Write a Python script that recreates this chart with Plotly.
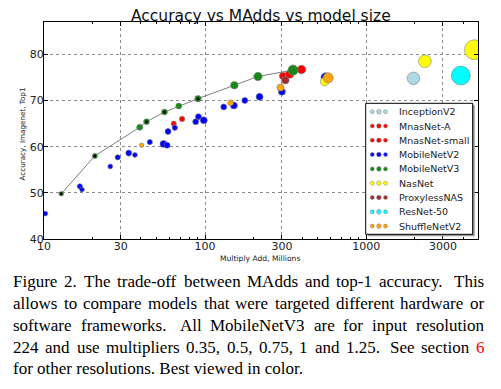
import math
import plotly.graph_objects as go

# ---------------- data ----------------
families = ["InceptionV2", "MnasNet-A", "MnasNet-small", "MobileNetV2", "MobileNetV3",
            "NasNet", "ProxylessNAS", "ResNet-50", "ShuffleNetV2"]

inception_madds = [1968]
inception_acc = [74.8]
inception_params = [11.2]

mnasa_madds = [305, 335, 397]
mnasa_acc = [75.3, 75.7, 76.7]
mnasa_params = [3.9, 4.6, 5.2]

mnass_madds = [63.9, 72.0]
mnass_acc = [65.0, 66.0]
mnass_params = [1.9, 2.1]

mnv2_madds = [10.2, 16.7, 17.2, 25.8, 28.7, 33.6, 36.7, 45.4, 55.2, 58.1, 58.9, 64.9,
              87.5, 91.0, 98.2, 130.6, 151, 176.6, 218, 300, 560]
mnv2_acc = [45.5, 51.4, 50.7, 55.7, 57.7, 58.6, 58.2, 61.0, 60.6, 60.3, 63.3, 64.1,
            65.4, 66.5, 65.7, 68.6, 68.9, 70.0, 70.8, 71.9, 75.0]
mnv2_params = [1.7, 2.0, 1.7, 1.7, 2.0, 2.6, 1.7, 2.0, 3.5, 2.6, 2.6, 2.0,
               2.6, 2.6, 3.5, 2.6, 3.5, 2.6, 3.5, 3.5, 6.1]

mnv3_madds = [12.8, 20.7, 39.3, 43.3, 56, 68.7, 90.4, 152, 213, 352]
mnv3_acc = [49.8, 58.0, 64.2, 65.4, 67.5, 68.8, 70.4, 73.3, 75.2, 76.6]
mnv3_params = [1.6, 1.9, 2.6, 2.4, 2.5, 2.6, 3.0, 4.0, 5.0, 7.5]
mnv3_variant = ["S", "S", "L", "S", "S", "L", "S", "L", "L", "L"]

nasnet_madds = [553, 2317, 4700]
nasnet_acc = [74.1, 78.5, 81.0]
nasnet_params = [5.3, 11.5, 28.0]

proxyless_madds = [315]
proxyless_acc = [74.4]
proxyless_params = [4.1]

resnet_madds = [3873]
resnet_acc = [75.4]
resnet_params = [25.6]

shuffle_madds = [40.4, 144, 294, 581]
shuffle_acc = [60.3, 69.5, 72.8, 74.9]
shuffle_params = [1.4, 2.3, 3.5, 7.4]

x_tickvals = [10, 30, 100, 300, 1000, 3000]
x_ticktext = ["10", "30", "100", "300", "1000", "3000"]
y_tickvals = [40, 50, 60, 70, 80]

title_text = "Accuracy vs MAdds vs model size"
x_title = "Multiply Add, Millions"
y_title = "Accuracy, Imagenet, Top1"

caption_lines = [
    "Figure 2. The trade-off between MAdds and top-1 accuracy. This",
    "allows to compare models that were targeted different hardware or",
    "software frameworks. All MobileNetV3 are for input resolution",
    "224 and use multipliers 0.35, 0.5, 0.75, 1 and 1.25. See section 6",
    "for other resolutions. Best viewed in color.",
]

# ---------------- styling / layout ----------------
OFF = 8  # the page body margin shifts the figure by 8px
W, H = 501 - OFF, 389 - OFF
PL, PR, PT, PB = 44, 478, 22, 239  # plot area in window pixels
colors = {
    "InceptionV2": "#add8e6", "MnasNet-A": "#ff0000", "MnasNet-small": "#ff0000",
    "MobileNetV2": "#0000ff", "MobileNetV3": "#188818", "NasNet": "#ffff00",
    "ProxylessNAS": "#a52a2a", "ResNet-50": "#00ffff", "ShuffleNetV2": "#ffa500",
}
series = {
    "InceptionV2": (inception_madds, inception_acc, inception_params),
    "MnasNet-A": (mnasa_madds, mnasa_acc, mnasa_params),
    "MnasNet-small": (mnass_madds, mnass_acc, mnass_params),
    "MobileNetV2": (mnv2_madds, mnv2_acc, mnv2_params),
    "MobileNetV3": (mnv3_madds, mnv3_acc, mnv3_params),
    "NasNet": (nasnet_madds, nasnet_acc, nasnet_params),
    "ProxylessNAS": (proxyless_madds, proxyless_acc, proxyless_params),
    "ResNet-50": (resnet_madds, resnet_acc, resnet_params),
    "ShuffleNetV2": (shuffle_madds, shuffle_acc, shuffle_params),
}


def diam(p):
    return 3.75 * math.sqrt(p)


def pxx(px):
    return (px - PL) / (PR - PL)


def pxy(py):
    return (PB - py) / (PB - PT)


fig = go.Figure()
for name in families:
    xs, ys, ps = series[name]
    if name == "MobileNetV3":
        # MobileNetV3 trade-off curve, drawn under its markers
        fig.add_trace(go.Scatter(x=xs, y=ys, mode="lines", showlegend=False,
                                 line=dict(color="#808080", width=1)))
    fig.add_trace(go.Scatter(
        x=xs, y=ys, mode="markers", name=name, showlegend=False,
        marker=dict(size=[diam(p) for p in ps], color=colors[name], opacity=1,
                    line=dict(color="#808080", width=0.6)),
    ))

small_x = [x for x, v in zip(mnv3_madds, mnv3_variant) if v == "S"]
small_y = [y for y, v in zip(mnv3_acc, mnv3_variant) if v == "S"]
fig.add_trace(go.Scatter(x=small_x, y=small_y, mode="markers", showlegend=False,
                         marker=dict(size=3, color="black", opacity=1)))

minor_vals = [m * d for d in (10, 100, 1000) for m in (2, 4, 5, 6, 7, 8, 9)]

fig.update_xaxes(type="log", range=[1, math.log10(4950)], tickvals=x_tickvals,
                 ticktext=x_ticktext, showgrid=True, gridcolor="#8c8c8c", griddash="dot",
                 gridwidth=1, showline=True, linecolor="black", linewidth=1, mirror="allticks",
                 ticks="inside", ticklen=4, tickcolor="black", zeroline=False,
                 ticklabelstandoff=-3,
                 tickfont=dict(family="DejaVu Sans", size=11, color="#222"),
                 minor=dict(tickvals=minor_vals, ticks="inside", ticklen=2, tickcolor="black",
                            showgrid=False))
fig.update_yaxes(range=[40, 87], tickvals=y_tickvals, showgrid=True, gridcolor="#8c8c8c",
                 griddash="dot", gridwidth=1, showline=True, linecolor="black", linewidth=1,
                 mirror="allticks", ticks="inside", ticklen=4, tickcolor="black", zeroline=False,
                 ticklabelstandoff=-3,
                 tickfont=dict(family="DejaVu Sans", size=11, color="#222"))

shapes = []
annotations = []

# title and axis titles
annotations.append(dict(text=title_text, x=pxx(261), y=pxy(16.4), xref="paper", yref="paper",
                        showarrow=False, xanchor="center", yanchor="middle", borderpad=0,
                        font=dict(family="DejaVu Sans", size=15.5, color="#111")))
annotations.append(dict(text=x_title, x=pxx(260), y=pxy(258.5), xref="paper", yref="paper",
                        showarrow=False, xanchor="center", yanchor="middle",
                        font=dict(family="DejaVu Sans", size=7.6, color="#222")))
annotations.append(dict(text=y_title, x=pxx(21.5), y=pxy(134), xref="paper", yref="paper",
                        showarrow=False, xanchor="center", yanchor="middle", textangle=-90,
                        font=dict(family="DejaVu Sans", size=7.2, color="#222")))

# custom legend (matplotlib style, three scatter points per entry)
lx0, lx1, ly0, ly1 = 365.7, 472.7, 103.3, 234.3
shapes.append(dict(type="rect", xref="paper", yref="paper", x0=pxx(lx0 + 2), x1=pxx(lx1 + 2),
                   y0=pxy(ly1 + 2), y1=pxy(ly0 + 2), fillcolor="#9a9a9a",
                   line=dict(width=0), layer="above"))
shapes.append(dict(type="rect", xref="paper", yref="paper", x0=pxx(lx0), x1=pxx(lx1),
                   y0=pxy(ly1), y1=pxy(ly0), fillcolor="white",
                   line=dict(color="black", width=1), layer="above"))
for i, name in enumerate(families):
    cy = 111.7 + 14.3 * i
    for cx, d in zip((372.3, 378.9, 385.5), (4.0, 4.6, 4.0)):
        shapes.append(dict(type="circle", xref="paper", yref="paper",
                           x0=pxx(cx - d / 2), x1=pxx(cx + d / 2),
                           y0=pxy(cy + d / 2), y1=pxy(cy - d / 2),
                           fillcolor=colors[name], line=dict(color="#808080", width=0.5),
                           layer="above"))
    annotations.append(dict(text=name, x=pxx(397.5), y=pxy(cy), xref="paper", yref="paper",
                            showarrow=False, xanchor="left", yanchor="middle", borderpad=0,
                            font=dict(family="DejaVu Sans", size=9.5, color="#222")))

# caption (justified like the paper text)
TW = {" ": 250, ",": 250, "-": 333, ".": 250}
TW.update({d: 500 for d in "0123456789"})
TW.update(dict(A=722, B=667, C=667, D=722, E=611, F=556, G=722, H=722, I=333, J=389, K=722,
               L=611, M=889, N=722, O=722, P=556, Q=722, R=667, S=556, T=611, U=722, V=722,
               W=944, X=722, Y=722, Z=611))
TW.update(dict(a=444, b=500, c=444, d=500, e=444, f=333, g=500, h=500, i=278, j=278, k=500,
               l=278, m=778, n=500, o=500, p=500, q=500, r=333, s=389, t=278, u=500, v=500,
               w=722, x=500, y=500, z=444))
CFS = 17
cap_left, cap_right = 12.3, 483.0
baselines = [287.3, 309.0, 331.0, 352.7, 374.0]
cap_font = dict(family="Liberation Serif", size=CFS, color="black")
for li, line in enumerate(caption_lines):
    cy = baselines[li] - 5.7
    words = line.split(" ")
    if li == len(caption_lines) - 1:
        annotations.append(dict(text=line, x=pxx(cap_left), y=pxy(cy), xref="paper",
                                yref="paper", showarrow=False, xanchor="left",
                                yanchor="middle", borderpad=0, font=cap_font))
        continue
    widths = [sum(TW.get(ch, 500) for ch in w) * CFS / 1000 for w in words]
    weights = [1.5 if (w.endswith(".") and len(w) > 2) else 1.0 for w in words[:-1]]
    gap_unit = (cap_right - cap_left - sum(widths)) / sum(weights)
    x = cap_left
    for wi, w in enumerate(words):
        col = "red" if (li == 3 and wi == len(words) - 1) else "black"
        annotations.append(dict(text=w, x=pxx(x), y=pxy(cy), xref="paper", yref="paper",
                                showarrow=False, xanchor="left", yanchor="middle",
                                borderpad=0, font=dict(family="Liberation Serif", size=CFS,
                                                       color=col)))
        if wi < len(words) - 1:
            x += widths[wi] + gap_unit * weights[wi]

fig.update_layout(width=W, height=H,
                  margin=dict(l=PL - OFF, r=501 - PR, t=PT - OFF, b=389 - PB),
                  paper_bgcolor="white", plot_bgcolor="white", showlegend=False,
                  shapes=shapes, annotations=annotations,
                  font=dict(family="DejaVu Sans"))

fig.write_html("out.html")
